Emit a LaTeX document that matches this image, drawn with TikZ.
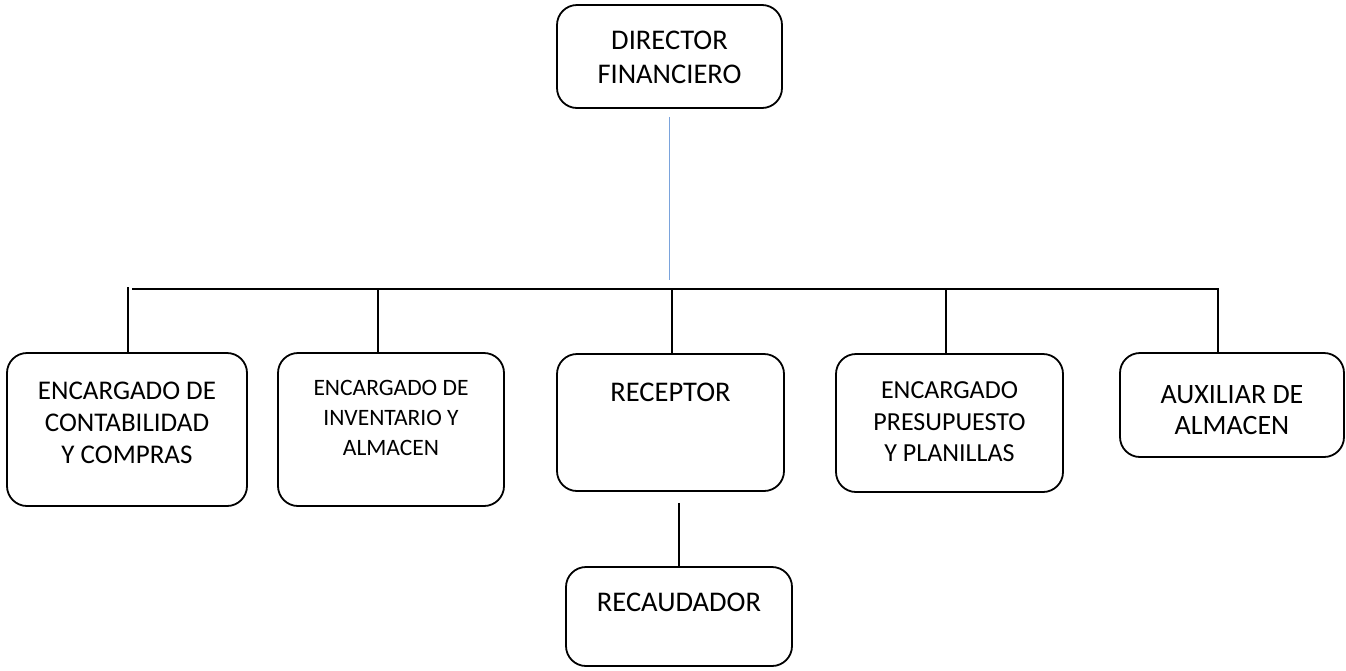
\documentclass[tikz,border=0pt]{standalone}
\usepackage{fontspec}
\setmainfont{Carlito}
\usetikzlibrary{positioning}

\definecolor{linkblue}{RGB}{122,163,220}

\begin{document}
\begin{tikzpicture}[x=1pt, y=-1pt, line width=1.8pt,
    box/.style={draw, rounded corners=20pt, inner sep=0pt},
    txt/.style={align=center, inner sep=0pt},
    big/.style={font=\fontsize{28.5}{34}\selectfont},
    mid/.style={font=\fontsize{27}{32}\selectfont},
    small/.style={font=\fontsize{23.5}{30}\selectfont}]
    \useasboundingbox (0,0) rectangle (1346,670);

    % top
    \node[box, minimum width=225pt, minimum height=103pt,
          label={[txt, big, yshift=-1pt]center:DIRECTOR\\FINANCIERO}] (dir) at (669.5,56.5) {};

    % second level
    \node[box, minimum width=240pt, minimum height=153pt,
          label={[txt, mid, yshift=7pt]center:ENCARGADO DE\\CONTABILIDAD\\Y COMPRAS}] (cont) at (127,429.5) {};
    \node[box, minimum width=226pt, minimum height=153pt,
          label={[txt, small, yshift=12pt]center:ENCARGADO DE\\INVENTARIO Y\\ALMACEN}] (inv) at (391,429.5) {};
    \node[box, minimum width=227pt, minimum height=137pt,
          label={[txt, big, yshift=30pt]center:RECEPTOR}] (rec) at (670.5,422.5) {};
    \node[box, minimum width=227pt, minimum height=138pt,
          label={[txt, font=\fontsize{26}{31.5}\selectfont, yshift=1pt]center:ENCARGADO\\PRESUPUESTO\\Y PLANILLAS}] (pres) at (949.5,423) {};
    \node[box, minimum width=224pt, minimum height=104pt,
          label={[txt, font=\fontsize{28}{31}\selectfont, yshift=-5pt]center:AUXILIAR DE\\ALMACEN}] (aux) at (1232,405) {};

    % third level
    \node[box, minimum width=226pt, minimum height=99pt,
          label={[txt, big, yshift=14pt]center:RECAUDADOR}] (rcd) at (679,616.5) {};

    % bar
    \coordinate (bl) at (132,289);
    \coordinate (br) at (1218,289);
    \coordinate (tick) at (128,287);
    \coordinate (b2) at (378,289);
    \coordinate (b3) at (672,289);
    \coordinate (b4) at (946,289);

    \draw[linkblue] ([yshift=-8pt]dir.south) -- ++(0,163);
    \draw (bl) -- (br) -- (br |- aux.north);
    \draw (tick) -- (tick |- cont.north);
    \draw (b2) -- (b2 |- inv.north);
    \draw (b3) -- (b3 |- rec.north);
    \draw (b4) -- (b4 |- pres.north);
    \draw ([yshift=-11pt]rec.south -| rcd.north) -- (rcd.north);
\end{tikzpicture}
\end{document}
